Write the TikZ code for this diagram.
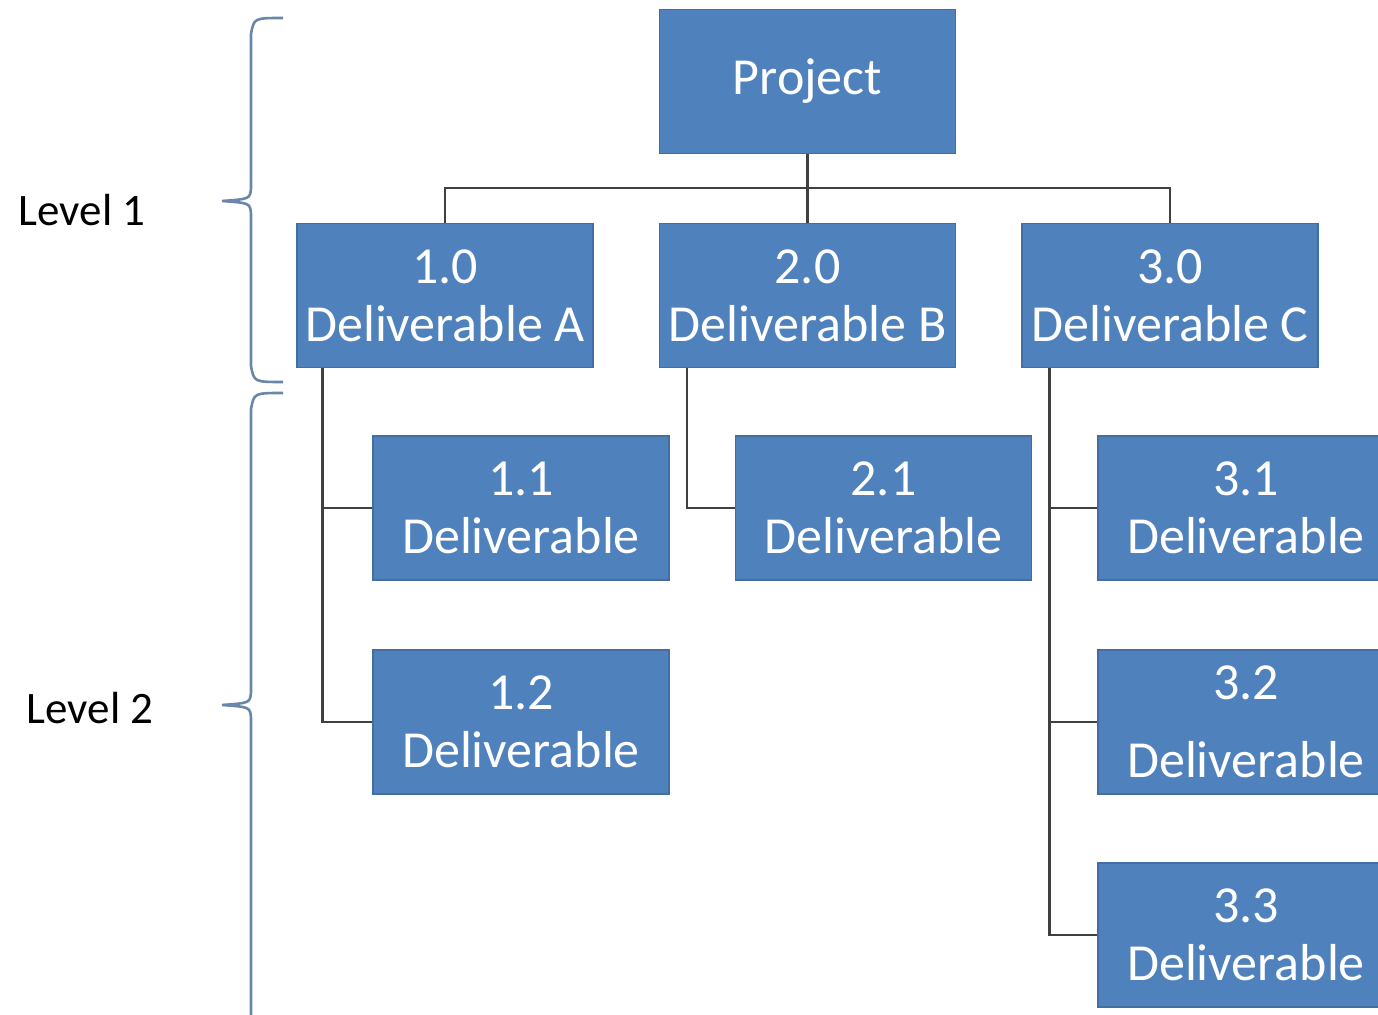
\documentclass[tikz,border=0pt]{standalone}
\usepackage{fontspec}
\setmainfont{Carlito}
\definecolor{boxblue}{HTML}{4F81BD}
\definecolor{linegray}{HTML}{404040}
\definecolor{braceblue}{HTML}{6A86A8}

\begin{document}
\begin{tikzpicture}[x=0.5pt, y=-0.5pt,
        main/.style = {fill=boxblue, draw=boxblue!85!black, line width=0.6pt, text=white, minimum width=148pt, minimum height=72pt, inner sep=0pt, align=center, font=\fontsize{26}{29}\selectfont},
        link/.style = {draw=linegray, line width=1.4pt},
        level/.style = {font=\fontsize{22.5}{26}\selectfont},
        curly/.style = {draw=braceblue, line width=1.3pt}]
    \useasboundingbox (0,0) rectangle (1378,1015);
    \begin{scope}
        \clip (0,0) rectangle (1378,1015);
        \node[main] (p) at (807.5,81.5) {Project};
        \node[main] (1) at (445,295.5) {1.0\\Deliverable A};
        \node[main] (2) at (807.5,295.5) {2.0\\Deliverable B};
        \node[main] (3) at (1170,295.5) {3.0\\Deliverable C};
        \node[main] (11) at (521,508) {1.1\\Deliverable};
        \node[main] (12) at (521,722) {1.2\\Deliverable};
        \node[main] (21) at (883.5,508) {2.1\\Deliverable};
        \node[main] (31) at (1246,508) {3.1\\Deliverable};
        \node[main] (32) at (1246,722) {3.2\\[10pt]Deliverable};
        \node[main] (33) at (1246,935) {3.3\\Deliverable};
        \draw[link] (p.south) -- (2.north);
        \draw[link] (p.south) ++(0,34) -| (1.north);
        \draw[link] (p.south) ++(0,34) -| (3.north);
        \draw[link] ([xshift=13pt]1.south west) |- (11.west);
        \draw[link] ([xshift=13pt]1.south west) |- (12.west);
        \draw[link] ([xshift=14pt]2.south west) |- (21.west);
        \draw[link] ([xshift=14pt]3.south west) |- (31.west);
        \draw[link] ([xshift=14pt]3.south west) |- (32.west);
        \draw[link] ([xshift=14pt]3.south west) |- (33.west);
        % braces
        \draw[curly] (283,18) .. controls (254,18) .. (251,34) -- (251,188)
            .. controls (250,199) .. (222,201) .. controls (250,203) .. (251,214)
            -- (251,366) .. controls (254,382) .. (283,382);
        \draw[curly] (283,393) .. controls (254,393) .. (251,409) -- (251,692)
            .. controls (250,703) .. (222,705) .. controls (250,707) .. (251,718)
            -- (251,1020);
        \node[level] (lev1) at (82,210) {Level 1};
        \node[level] (lev2) at (90,708) {Level 2};
    \end{scope}
\end{tikzpicture}
\end{document}
